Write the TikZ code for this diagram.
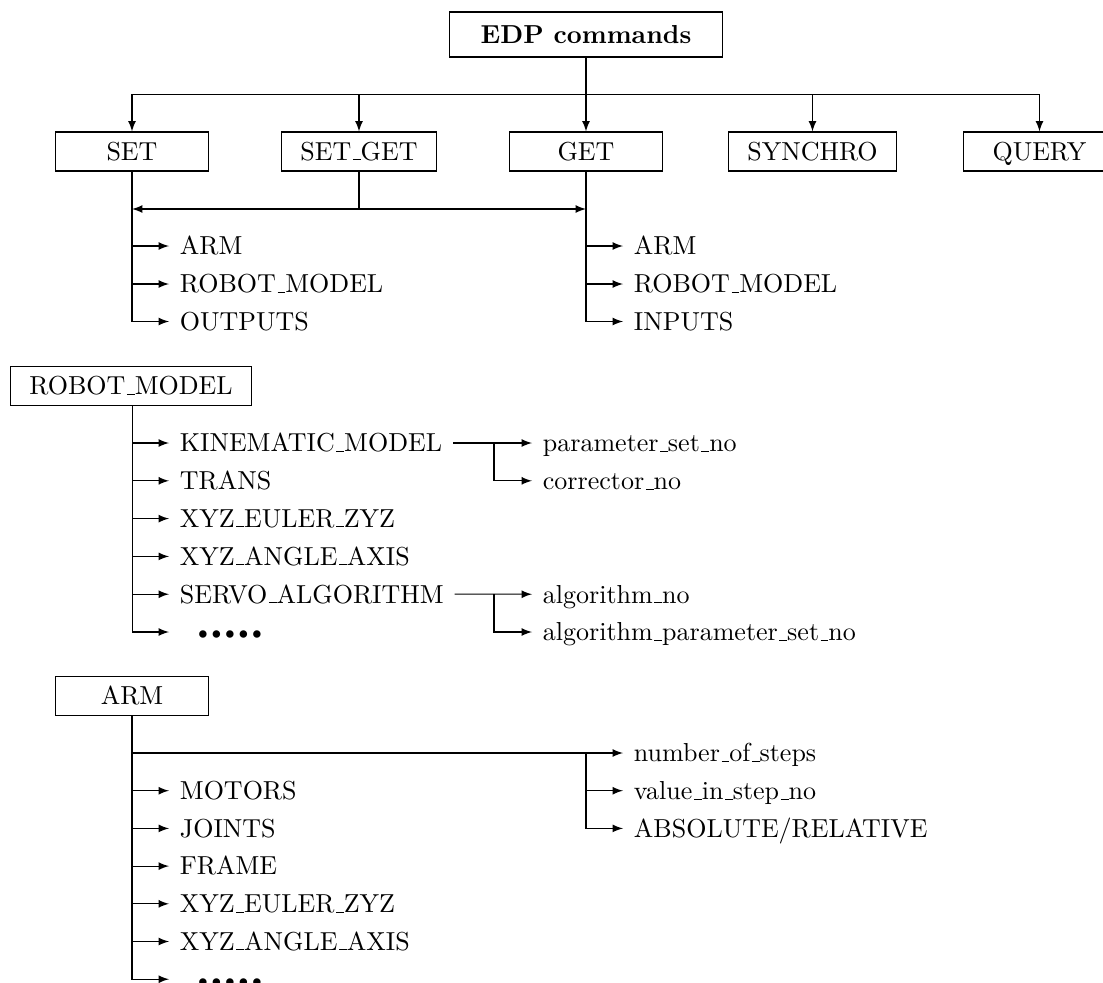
\documentclass[tikz,border=0pt]{standalone}
\usepackage{tikz}
\usetikzlibrary{calc}
% short classic underscore, as in the old OT1 fonts
\renewcommand{\_}{\leavevmode\kern.06em\vbox{\hrule width.3em}}
\newcommand{\moredots}{\hspace*{5pt}\textbullet\kern-2.6pt\textbullet\kern-2.6pt\textbullet\kern-2.6pt\textbullet\kern-2.6pt\textbullet}

\begin{document}
\begin{tikzpicture}[x=0.3846pt, y=-0.3846pt, >=latex,
  cmd/.style={draw, minimum width=58.8pt, minimum height=15pt, inner xsep=7.2pt,
    text height=6.83pt, text depth=0pt},
  item/.style={anchor=west, inner xsep=4pt, inner ysep=0pt,
    text height=6.83pt, text depth=0pt}]
  \useasboundingbox (0,0) rectangle (1103,983);

  % command groups
  \node[cmd, minimum width=105pt, minimum height=17.3pt] (edp) at (586,34.5) {\textbf{EDP commands}};
  \node[cmd] (set)     at (132,151.5)  {SET};
  \node[cmd] (setget)  at (359,151.5)  {SET\_GET};
  \node[cmd] (get)     at (586,151.5)  {GET};
  \node[cmd] (synchro) at (812.5,151.5) {SYNCHRO};
  \node[cmd] (query)   at (1039.5,151.5) {QUERY};
  \coordinate (bus) at (586,94.5);
  \draw[->] (edp.south) -- (get.north);
  \foreach \n in {set,setget,synchro,query}
    \draw[->] (bus) -| (\n.north);

  % SET_GET shares both branches
  \coordinate (sgbus) at (359,209);
  \draw (setget.south) -- (sgbus);
  \draw[<->] (set.south |- sgbus) -- (get.south |- sgbus);

  % SET arguments
  \node[item] (sarm) at (169,246)   {ARM};
  \node[item] (srm)  at (169,284)   {ROBOT\_MODEL};
  \node[item] (sout) at (169,321.5) {OUTPUTS};
  \draw[->] (set.south) |- (sout.west);
  \foreach \n in {sarm,srm}
    \draw[->] (set.south |- \n.west) -- (\n.west);

  % GET arguments
  \node[item] (garm) at (623,246)   {ARM};
  \node[item] (grm)  at (623,284)   {ROBOT\_MODEL};
  \node[item] (gin)  at (623,321.5) {INPUTS};
  \draw[->] (get.south) |- (gin.west);
  \foreach \n in {garm,grm}
    \draw[->] (get.south |- \n.west) -- (\n.west);

  % ROBOT_MODEL variants
  \node[cmd] (rm) at (131,386) {ROBOT\_MODEL};
  \foreach \t [count=\i] in {KINEMATIC\_MODEL, TRANS, XYZ\_EULER\_ZYZ, XYZ\_ANGLE\_AXIS,
      SERVO\_ALGORITHM, \moredots}
    \node[item] (rm\i) at (169,{443+37.8*(\i-1)}) {\t};
  \draw[->] (rm.south -| 132.5,0) |- (rm6.west);
  \foreach \i in {1,...,5}
    \draw[->] (132.5,0 |- rm\i.west) -- (rm\i.west);

  \node[item] (kpar) at (532,443)   {parameter\_set\_no};
  \node[item] (kcor) at (532,480.8) {corrector\_no};
  \coordinate (kbr) at (494,443);
  \draw[->] (rm1.east) -- (kpar.west);
  \draw[->] (kbr) |- (kcor.west);

  \node[item] (salg) at (532,632-37.8) {algorithm\_no};
  \node[item] (spar) at (532,632)      {algorithm\_parameter\_set\_no};
  \coordinate (sbr) at (494,632-37.8);
  \draw[->] (rm5.east) -- (salg.west);
  \draw[->] (sbr) |- (spar.west);

  % ARM variants
  \node[cmd] (arm) at (132,696) {ARM};
  \foreach \t [count=\i] in {MOTORS, JOINTS, FRAME, XYZ\_EULER\_ZYZ, XYZ\_ANGLE\_AXIS, \moredots}
    \node[item] (am\i) at (169,{790.7+37.7*(\i-1)}) {\t};
  \draw[->] (arm.south) |- (am6.west);
  \foreach \i in {1,...,5}
    \draw[->] (arm.south |- am\i.west) -- (am\i.west);

  \node[item] (nsteps) at (623,753)   {number\_of\_steps};
  \node[item] (vstep)  at (623,790.7) {value\_in\_step\_no};
  \node[item] (absrel) at (623,828.4) {ABSOLUTE/RELATIVE};
  \coordinate (abr) at (586,753);
  \draw[->] (arm.south |- nsteps.west) -- (nsteps.west);
  \draw[->] (abr) |- (absrel.west);
  \draw[->] (abr |- vstep.west) -- (vstep.west);
\end{tikzpicture}
\end{document}
